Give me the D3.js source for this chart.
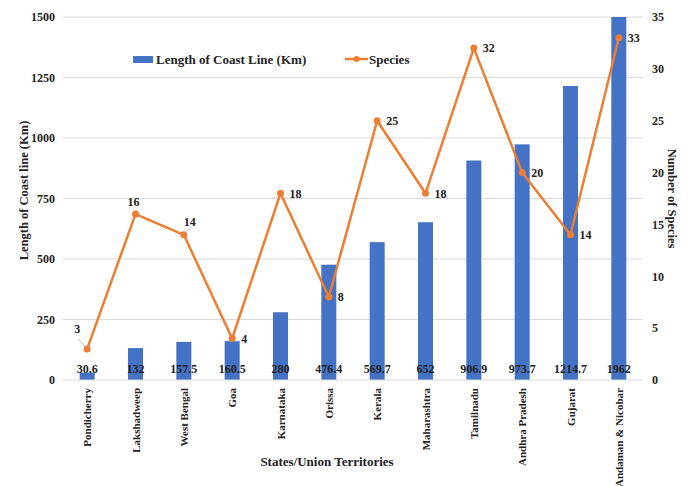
<!DOCTYPE html>
<html>
<head>
<meta charset="utf-8">
<script src="https://cdn.jsdelivr.net/npm/d3@7/dist/d3.min.js"></script>
<style>
  html, body { margin: 0; padding: 0; background: #fff; }
  svg { display: block; font-family: "Liberation Serif", "Times New Roman", serif; }
</style>
</head>
<body>
<svg id="chart" width="694" height="486"></svg>
<script>
// Coastline length and species count per state / union territory
const categories = ["Pondicherry", "Lakshadweep", "West Bengal", "Goa", "Karnataka", "Orissa",
  "Kerala", "Maharashtra", "Tamilnadu", "Andhra Pradesh", "Gujarat", "Andaman & Nicobar"];
const coastLength = [30.6, 132, 157.5, 160.5, 280, 476.4, 569.7, 652, 906.9, 973.7, 1214.7, 1962];
const species = [3, 16, 14, 4, 18, 8, 25, 18, 32, 20, 14, 33];
const lengthTicks = [0, 250, 500, 750, 1000, 1250, 1500];
const speciesTicks = [0, 5, 10, 15, 20, 25, 30, 35];

const svg = d3.select("#chart");
const plotL = 63, plotR = 643, plotT = 17, plotB = 380;

const x = d3.scaleBand().domain(categories).range([plotL, plotR]).paddingInner(0).paddingOuter(0);
const yL = d3.scaleLinear().domain([0, 1500]).range([plotB, plotT]).clamp(true);
const yR = d3.scaleLinear().domain([0, 35]).range([plotB, plotT]);

// horizontal gridlines
svg.append("g").selectAll("line").data(lengthTicks.slice(1)).join("line")
  .attr("x1", plotL).attr("x2", plotR)
  .attr("y1", d => yL(d)).attr("y2", d => yL(d))
  .attr("stroke", "#d9d9d9").attr("stroke-width", 1);

// left axis
const axL = svg.append("g").attr("transform", `translate(${plotL},0)`)
  .call(d3.axisLeft(yL).tickValues(lengthTicks).tickFormat(d3.format("d")).tickSize(0).tickPadding(8));
axL.select(".domain").remove();
axL.selectAll("text").attr("font-size", 12).attr("font-weight", "bold")
  .attr("font-family", "Liberation Serif").attr("fill", "#222");

// right axis
const axR = svg.append("g").attr("transform", `translate(${plotR},0)`)
  .call(d3.axisRight(yR).tickValues(speciesTicks).tickFormat(d3.format("d")).tickSize(0).tickPadding(9));
axR.select(".domain").remove();
axR.selectAll("text").attr("font-size", 12).attr("font-weight", "bold")
  .attr("font-family", "Liberation Serif").attr("fill", "#222");

// bars
const barW = 15;
svg.append("g").selectAll("rect").data(categories).join("rect")
  .attr("x", d => x(d) + x.bandwidth() / 2 - barW / 2)
  .attr("width", barW)
  .attr("y", (d, i) => yL(coastLength[i]))
  .attr("height", (d, i) => plotB - yL(coastLength[i]))
  .attr("fill", "#4472c4");

// baseline
svg.append("line").attr("x1", plotL).attr("x2", plotR).attr("y1", plotB).attr("y2", plotB)
  .attr("stroke", "#d9d9d9").attr("stroke-width", 1);

// bar value labels
svg.append("g").selectAll("text").data(categories).join("text")
  .attr("x", d => x(d) + x.bandwidth() / 2)
  .attr("y", plotB - 7)
  .attr("text-anchor", "middle")
  .attr("font-size", 12).attr("font-weight", "bold").attr("fill", "#222")
  .text((d, i) => coastLength[i]);

// species line
const cx = d => x(d) + x.bandwidth() / 2;
const line = d3.line().x((d, i) => cx(categories[i])).y(d => yR(d));
svg.append("path").datum(species).attr("d", line)
  .attr("fill", "none").attr("stroke", "#ed7d31").attr("stroke-width", 2.5)
  .attr("stroke-linejoin", "round");
svg.append("g").selectAll("circle").data(species).join("circle")
  .attr("cx", (d, i) => cx(categories[i])).attr("cy", d => yR(d)).attr("r", 3.5)
  .attr("fill", "#ed7d31");

// species labels: most sit right of the marker, a few above with leader lines
const placement = {
  0: { dx: -10, dy: -20, anchor: "middle", leader: [-9, -10] },
  1: { dx: -2, dy: -12, anchor: "middle" },
  2: { dx: 6, dy: -13, anchor: "middle", leader: [6, -6] },
};
const lbl = svg.append("g");
species.forEach((v, i) => {
  const px = cx(categories[i]), py = yR(v);
  const p = placement[i] || { dx: 9, dy: 0, anchor: "start" };
  if (p.leader) {
    lbl.append("line").attr("x1", px).attr("y1", py)
      .attr("x2", px + p.leader[0]).attr("y2", py + p.leader[1])
      .attr("stroke", "#a6a6a6").attr("stroke-width", 0.8);
  }
  lbl.append("text").attr("x", px + p.dx).attr("y", py + p.dy)
    .attr("dy", "0.35em").attr("text-anchor", p.anchor)
    .attr("font-size", 12).attr("font-weight", "bold").attr("fill", "#222")
    .text(v);
});

// category labels (rotated)
svg.append("g").selectAll("text").data(categories).join("text")
  .attr("transform", d => `translate(${cx(d) + 4},${plotB + 8}) rotate(-90)`)
  .attr("text-anchor", "end")
  .attr("font-size", 11).attr("font-weight", "bold").attr("fill", "#222")
  .text(d => d);

// axis titles
svg.append("text").attr("transform", `translate(28,${(plotT + plotB) / 2 - 8}) rotate(-90)`)
  .attr("text-anchor", "middle").attr("font-size", 12.5).attr("font-weight", "bold").attr("fill", "#222")
  .text("Length of Coast line (Km)");
svg.append("text").attr("transform", `translate(668,${(plotT + plotB) / 2}) rotate(90)`)
  .attr("text-anchor", "middle").attr("font-size", 12.5).attr("font-weight", "bold").attr("fill", "#222")
  .text("Number  of Species");
svg.append("text").attr("x", 327).attr("y", 466)
  .attr("text-anchor", "middle").attr("font-size", 13).attr("font-weight", "bold").attr("fill", "#222")
  .text("States/Union Territories");

// legend
const lg = svg.append("g");
lg.append("rect").attr("x", 133).attr("y", 56).attr("width", 20).attr("height", 7).attr("fill", "#4472c4");
lg.append("text").attr("x", 156).attr("y", 59).attr("dy", "0.35em")
  .attr("font-size", 13).attr("font-weight", "bold").attr("fill", "#222")
  .text("Length of  Coast Line (Km)");
lg.append("line").attr("x1", 345).attr("x2", 368).attr("y1", 59).attr("y2", 59)
  .attr("stroke", "#ed7d31").attr("stroke-width", 2.5);
lg.append("circle").attr("cx", 356.5).attr("cy", 59).attr("r", 3).attr("fill", "#ed7d31");
lg.append("text").attr("x", 369).attr("y", 59).attr("dy", "0.35em")
  .attr("font-size", 13).attr("font-weight", "bold").attr("fill", "#222")
  .text("Species");
</script>
</body>
</html>
